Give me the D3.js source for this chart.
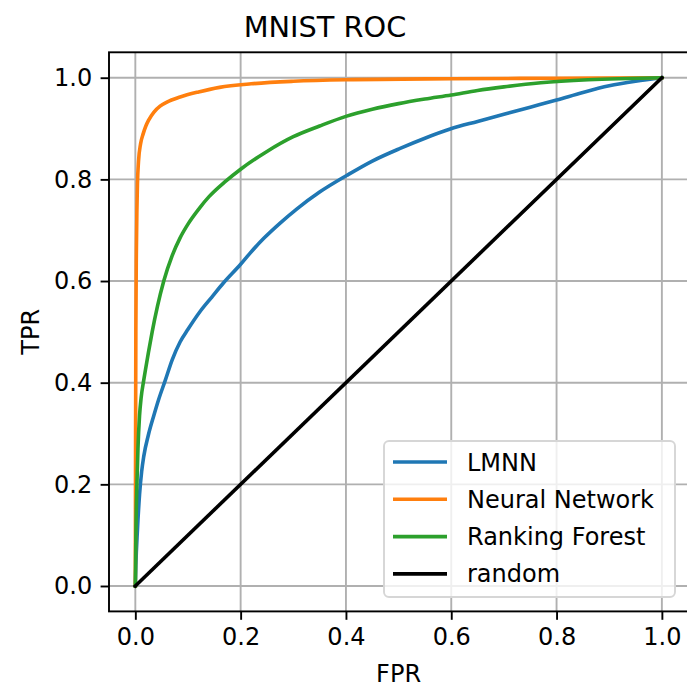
<!DOCTYPE html>
<html>
<head>
<meta charset="utf-8">
<script src="https://cdn.jsdelivr.net/npm/d3@7"></script>
<style>
  body { margin: 0; background: #fff; }
  text { font-family: "DejaVu Sans", sans-serif; fill: #000; }
</style>
</head>
<body>
<div id="roc"></div>
<script>
// ROC curves, [fpr, tpr]
var lmnn = [[0,0],[0.001,0.04],[0.004,0.11],[0.008,0.18],[0.012,0.225],[0.016,0.255],[0.025,0.298],
  [0.035,0.335],[0.044,0.366],[0.057,0.405],[0.07,0.445],[0.085,0.48],[0.1,0.505],[0.123,0.54],
  [0.145,0.568],[0.168,0.597],[0.2,0.633],[0.218,0.655],[0.244,0.684],[0.275,0.714],[0.307,0.742],
  [0.35,0.775],[0.402,0.808],[0.45,0.836],[0.503,0.861],[0.55,0.881],[0.598,0.899],[0.65,0.914],
  [0.7,0.928],[0.75,0.942],[0.8,0.956],[0.85,0.971],[0.9,0.984],[0.95,0.993],[1,1]];
var neuralNet = [[0,0],[0.0005,0.3],[0.001,0.5],[0.002,0.66],[0.003,0.74],[0.004,0.79],[0.006,0.835],
  [0.01,0.87],[0.015,0.89],[0.02,0.905],[0.025,0.916],[0.035,0.932],[0.047,0.944],[0.06,0.952],
  [0.085,0.962],[0.12,0.972],[0.16,0.981],[0.22,0.988],[0.3,0.993],[0.4,0.996],[0.6,0.998],
  [0.8,0.999],[1,1]];
var rankingForest = [[0,0],[0.001,0.1],[0.003,0.2],[0.005,0.27],[0.008,0.335],[0.011,0.37],[0.016,0.405],
  [0.02,0.43],[0.025,0.46],[0.032,0.5],[0.042,0.55],[0.054,0.6],[0.07,0.65],[0.085,0.685],[0.1,0.712],
  [0.123,0.745],[0.14,0.766],[0.17,0.795],[0.2,0.82],[0.25,0.855],[0.3,0.884],[0.35,0.905],[0.4,0.924],
  [0.45,0.938],[0.5,0.949],[0.55,0.958],[0.6,0.966],[0.65,0.975],[0.7,0.982],[0.77,0.99],[0.86,0.996],[1,1]];
var randomLine = [[0,0],[1,1]];

var seriesNames = ["LMNN", "Neural Network", "Ranking Forest", "random"];
var seriesData = [lmnn, neuralNet, rankingForest, randomLine];
var seriesColors = ["#1f77b4", "#ff7f0e", "#2ca02c", "#000000"];
var ticks = [0, 0.2, 0.4, 0.6, 0.8, 1.0];

var width = 687, height = 692;
var plotLeft = 109, plotRight = 688.2, plotTop = 52.3, plotBottom = 611.4;

var x = d3.scaleLinear().domain([-0.05, 1.05]).range([plotLeft, plotRight]);
var y = d3.scaleLinear().domain([-0.05, 1.05]).range([plotBottom, plotTop]);

var svg = d3.select("#roc").append("svg")
  .attr("width", width)
  .attr("height", height);

svg.append("defs").append("clipPath").attr("id", "clip")
  .append("rect").attr("x", plotLeft).attr("y", plotTop)
  .attr("width", plotRight - plotLeft).attr("height", plotBottom - plotTop);

// grid
var grid = svg.append("g");
grid.selectAll(".gx").data(ticks).enter().append("line")
  .attr("x1", d => x(d)).attr("x2", d => x(d))
  .attr("y1", plotTop).attr("y2", plotBottom)
  .attr("stroke", "#b0b0b0").attr("stroke-width", 1.9);
grid.selectAll(".gy").data(ticks).enter().append("line")
  .attr("y1", d => y(d)).attr("y2", d => y(d))
  .attr("x1", plotLeft).attr("x2", plotRight)
  .attr("stroke", "#b0b0b0").attr("stroke-width", 1.9);

// curves
var line = d3.line().x(d => x(d[0])).y(d => y(d[1])).curve(d3.curveMonotoneX);
svg.append("g").attr("clip-path", "url(#clip)")
  .selectAll("path").data(seriesData).enter().append("path")
  .attr("d", line)
  .attr("fill", "none")
  .attr("stroke", (d, i) => seriesColors[i])
  .attr("stroke-width", 3.6)
  .attr("stroke-linejoin", "round")
  .attr("stroke-linecap", "square");

// axes
var fmt = d3.format(".1f");
var xAxis = svg.append("g").attr("transform", "translate(0," + plotBottom + ")")
  .call(d3.axisBottom(x).tickValues(ticks).tickFormat(fmt).tickSize(8.4).tickPadding(8.4));
var yAxis = svg.append("g").attr("transform", "translate(" + plotLeft + ",0)")
  .call(d3.axisLeft(y).tickValues(ticks).tickFormat(fmt).tickSize(8.4).tickPadding(8.4));
[xAxis, yAxis].forEach(function(a) {
  a.select(".domain").remove();
  a.selectAll(".tick line").attr("stroke", "#000").attr("stroke-width", 1.9);
  a.selectAll(".tick text").style("font-family", "DejaVu Sans").style("font-size", "24px");
});

// spines
svg.append("rect")
  .attr("x", plotLeft).attr("y", plotTop)
  .attr("width", plotRight - plotLeft).attr("height", plotBottom - plotTop)
  .attr("fill", "none").attr("stroke", "#000").attr("stroke-width", 1.9);

// labels
svg.append("text").attr("x", 325).attr("y", 37)
  .attr("text-anchor", "middle").style("font-size", "28.8px").text("MNIST ROC");
svg.append("text").attr("x", (plotLeft + plotRight) / 2).attr("y", 682)
  .attr("text-anchor", "middle").style("font-size", "24px").text("FPR");
svg.append("text").attr("transform", "translate(39," + (plotTop + plotBottom) / 2 + ") rotate(-90)")
  .attr("text-anchor", "middle").style("font-size", "24px").text("TPR");

// legend
var legend = svg.append("g");
legend.append("rect")
  .attr("x", 384).attr("y", 441).attr("width", 291).attr("height", 156)
  .attr("rx", 5).attr("ry", 5)
  .attr("fill", "rgba(255,255,255,0.8)")
  .attr("stroke", "#d6d6d6").attr("stroke-width", 1.9);
var rows = legend.selectAll(".row").data(seriesNames).enter().append("g")
  .attr("transform", (d, i) => "translate(0," + (462 + i * 37.3) + ")");
rows.append("line")
  .attr("x1", 393).attr("x2", 447).attr("y1", 0).attr("y2", 0)
  .attr("stroke", (d, i) => seriesColors[i]).attr("stroke-width", 3.6);
rows.append("text").attr("x", 467).attr("y", 8.5)
  .style("font-size", "24px").text(d => d);
</script>
</body>
</html>
